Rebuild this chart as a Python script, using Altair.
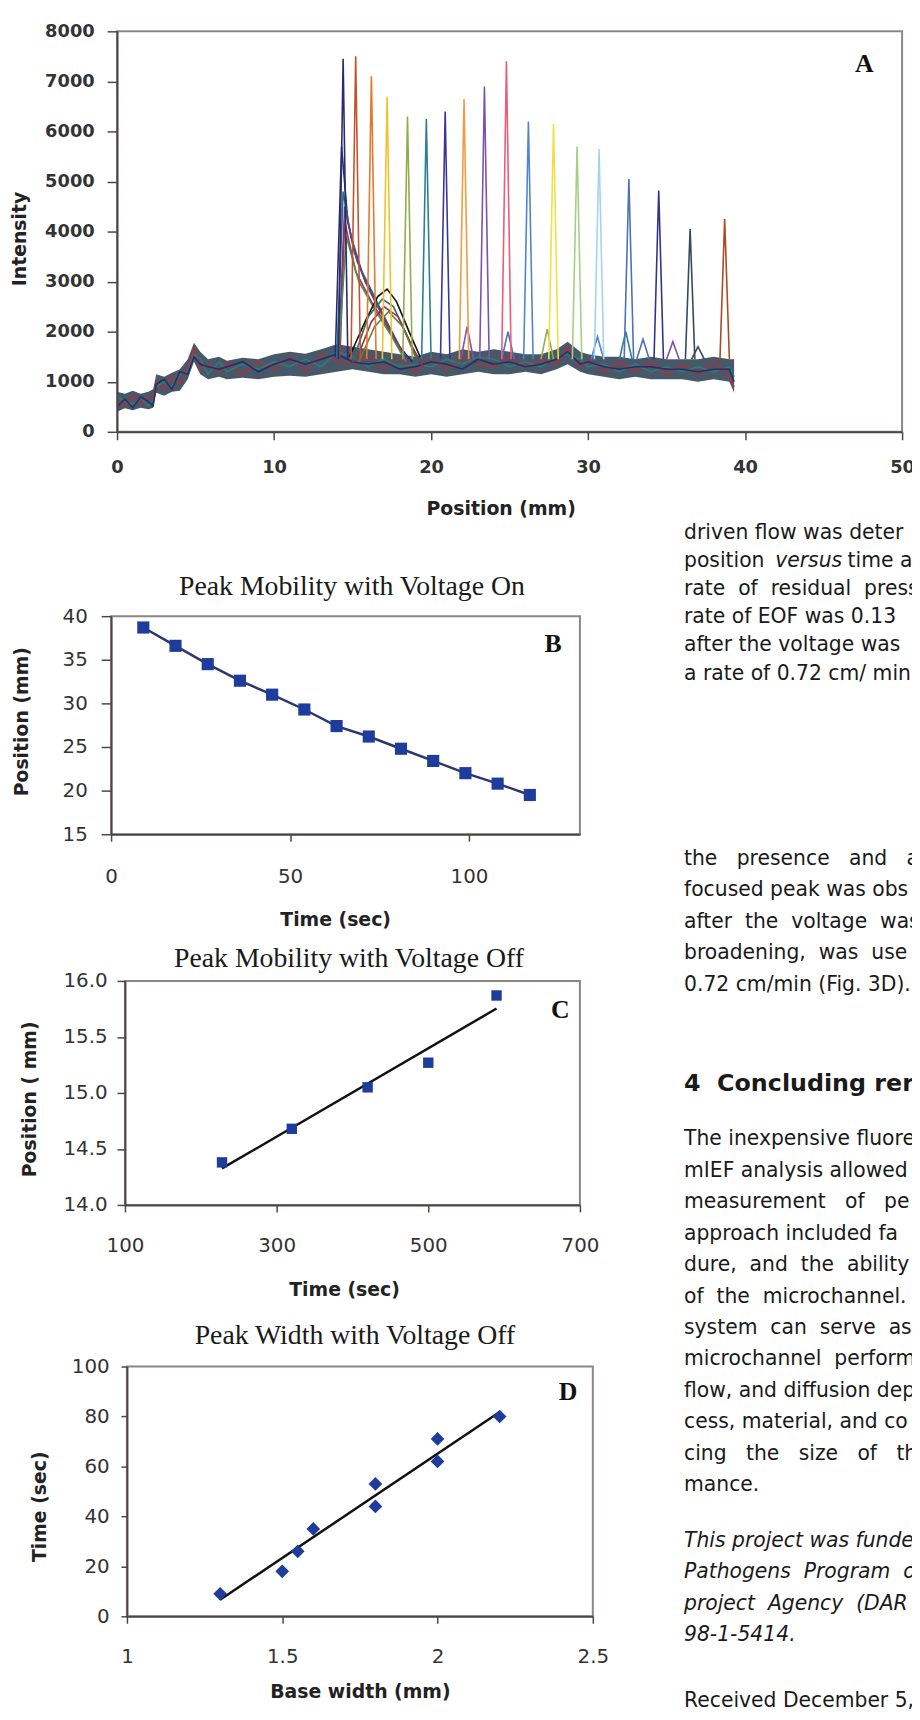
import altair as alt
import pandas as pd

# ============================ DATA ============================
# ---- Panel A: intensity profiles along the channel ----
band_x = [0, 0.5, 1.0, 1.5, 2.0, 2.3, 2.5, 3.0, 3.5, 4.0, 4.5, 4.9, 5.3, 5.8, 6.5, 7.0, 8.0, 9.0, 10.0, 11.0,
          12.0, 13.0, 14.0, 15.0, 16.0, 17.0, 18.0, 19.0, 20.0, 21.0, 22.0, 23.0, 24.0, 25.0, 26.0, 27.0, 28.0,
          28.7, 29.5, 30.0, 31.0, 32.0, 33.0, 34.0, 35.0, 36.0, 37.0, 38.0, 39.0, 39.3]
band_low = [400, 470, 430, 480, 450, 480, 780, 720, 800, 820, 1050, 1400, 1150, 1050, 1100, 1050, 1080, 1050,
            1100, 1120, 1100, 1150, 1200, 1250, 1200, 1150, 1150, 1100, 1150, 1100, 1150, 1200, 1150, 1150, 1200,
            1150, 1250, 1350, 1200, 1150, 1100, 1050, 1100, 1050, 1050, 1050, 1000, 1050, 1000, 780]
band_high = [800, 760, 820, 760, 800, 850, 1150, 1100, 1180, 1250, 1450, 1780, 1600, 1450, 1500, 1420, 1480, 1450,
             1550, 1600, 1560, 1650, 1750, 1700, 1650, 1600, 1550, 1500, 1600, 1550, 1650, 1600, 1650, 1600, 1550,
             1550, 1650, 1800, 1600, 1550, 1500, 1500, 1450, 1500, 1450, 1450, 1450, 1500, 1450, 1450]
noise_a = [600, 520, 700, 560, 650, 700, 1000, 850, 1100, 950, 1300, 1650, 1250, 1350, 1200, 1380, 1150, 1400,
           1250, 1500, 1200, 1550, 1400, 1350, 1500, 1250, 1450, 1200, 1450, 1250, 1500, 1350, 1300, 1500, 1300,
           1450, 1350, 1700, 1300, 1450, 1200, 1400, 1200, 1400, 1150, 1350, 1150, 1400, 1100, 900]
noise_b = [700, 600, 550, 680, 520, 620, 900, 1000, 900, 1150, 1200, 1550, 1450, 1150, 1400, 1200, 1350, 1250,
           1400, 1300, 1450, 1300, 1600, 1500, 1300, 1450, 1300, 1350, 1300, 1450, 1350, 1500, 1450, 1300, 1400,
           1300, 1500, 1550, 1450, 1300, 1350, 1200, 1350, 1200, 1300, 1200, 1300, 1200, 1300, 1100]
noise_c = [500, 650, 480, 700, 600, 520, 950, 1050, 850, 1200, 1150, 1500, 1350, 1300, 1250, 1300, 1400, 1200,
           1350, 1450, 1350, 1450, 1550, 1400, 1350, 1400, 1250, 1300, 1400, 1350, 1250, 1450, 1350, 1400, 1300,
           1350, 1450, 1600, 1350, 1400, 1300, 1250, 1300, 1300, 1250, 1250, 1200, 1250, 1250, 1000]
noise_colors = ["#a8323f", "#2c7d78", "#2b2b6a"]

peak_pos = [14.4, 15.2, 16.2, 17.2, 18.5, 19.7, 20.9, 22.1, 23.4, 24.8, 26.2, 27.8, 29.3, 30.7, 32.6, 34.5, 36.5, 38.7]
peak_height = [7450, 7500, 7100, 6700, 6300, 6250, 6400, 6650, 6900, 7400, 6200, 6150, 5700, 5650, 5050, 4820, 4050, 4250]
peak_color = ["#2e2a6e", "#c4532b", "#e8772b", "#f0c22a", "#93ab4a", "#2a8090", "#37379a", "#f39c3f", "#7d52aa",
              "#ec5b78", "#5283ca", "#f2df45", "#a9cd86", "#a3d3ee", "#4e70b9", "#33338c", "#36495c", "#ab4a20"]
PEAK_BASE = 1450     # level where the spikes leave the baseline band
PEAK_HALF = 0.3      # half width of a spike at its base (mm)

# small secondary bumps standing on the band
bump_pos = [22.3, 24.9, 27.4, 30.6, 32.4, 33.5, 35.4, 37.0]
bump_height = [2100, 2000, 2050, 1900, 2000, 1850, 1800, 1700]
bump_color = ["#7d52aa", "#4e70b9", "#93ab4a", "#5283ca", "#2a8090", "#4e70b9", "#7d52aa", "#36495c"]
BUMP_HALF = 0.4

clu_x = [[13.9, 14.3, 14.7, 15.3, 16.0, 17.0, 18.0, 18.8],
         [14.0, 14.4, 14.9, 15.6, 16.4, 17.3, 18.3],
         [14.1, 14.5, 15.1, 15.8, 16.6, 17.6, 18.6],
         [14.2, 14.5, 15.2, 16.2, 17.2, 18.3],
         [14.1, 14.6, 15.4, 16.5, 17.5, 18.4],
         [14.8, 15.8, 16.6, 17.2, 17.8, 18.6, 19.3],
         [15.0, 16.0, 16.9, 17.6, 18.5, 19.2],
         [15.2, 16.2, 17.0, 17.9, 18.8, 19.5],
         [15.4, 16.4, 17.3, 18.2, 19.0]]
clu_y = [[1500, 5700, 4200, 3400, 2900, 2300, 1700, 1400],
         [1500, 4800, 3900, 3200, 2700, 2100, 1500],
         [1500, 4500, 3600, 3000, 2500, 1900, 1400],
         [1500, 4200, 3200, 2600, 2100, 1500],
         [1500, 3900, 3000, 2400, 1900, 1400],
         [1500, 2200, 2700, 2850, 2600, 2000, 1500],
         [1400, 2300, 2650, 2500, 1900, 1400],
         [1400, 2200, 2500, 2300, 1700, 1300],
         [1400, 2100, 2400, 2100, 1500]]
clu_color = ["#2a2a72", "#1f7080", "#6b3b8c", "#b03242", "#3f905b", "#111111", "#2b6b72", "#8c3252", "#6b7b31"]

# ---- Panel B ----
b_time = [9, 18, 27, 36, 45, 54, 63, 72, 81, 90, 99, 108, 117]
b_position = [38.7, 36.6, 34.5, 32.6, 31.0, 29.3, 27.4, 26.2, 24.8, 23.4, 22.0, 20.8, 19.5]

# ---- Panel C ----
c_time = [228, 320, 420, 500, 590]
c_position = [14.38, 14.68, 15.05, 15.27, 15.87]

# ---- Panel D ----
d_base_width = [1.3, 1.5, 1.55, 1.6, 1.8, 1.8, 2.0, 2.0, 2.2]
d_time = [9, 18, 26, 35, 44, 53, 62, 71, 80]

# ---- axis domains and tick values ----
a_x_dom, a_y_dom = [0, 50], [0, 8000]
b_x_dom, b_y_dom = [0, 131], [15, 40]
c_x_dom, c_y_dom = [100, 700], [14, 16]
d_x_dom, d_y_dom = [1, 2.5], [0, 100]
a_x_ticks = [0, 10, 20, 30, 40, 50]
a_y_ticks = [0, 1000, 2000, 3000, 4000, 5000, 6000, 7000, 8000]
b_x_ticks = [0, 50, 100]
b_y_ticks = [15, 20, 25, 30, 35, 40]
c_x_ticks = [100, 300, 500, 700]
c_y_ticks = [14.0, 14.5, 15.0, 15.5, 16.0]
d_x_ticks = [1, 1.5, 2, 2.5]
d_y_ticks = [0, 20, 40, 60, 80, 100]

# ---- titles and body text (as visible on the page) ----
panel_titles = ["Peak Mobility with Voltage On", "Peak Mobility with Voltage Off", "Peak Width with Voltage Off"]
upper_lines = ["driven flow was deter", None, "rate of residual press", "rate of EOF was 0.13",
               "after the voltage was", "a rate of 0.72 cm/ min"]
upper_extra = [0, 0, 1, 0, 0, 0]
versus_segments = ["position", "versus", "time a"]
middle_lines = ["the presence and a", "focused peak was obs", "after the voltage was",
                "broadening, was use", "0.72 cm/min (Fig. 3D)."]
middle_extra = [2, 0, 1, 1, 0]
heading = "4\u00a0\u00a0Concluding rer"
body_lines = ["The inexpensive fluore", "mIEF analysis allowed", "measurement of pe", "approach included fa",
              "dure, and the ability t", "of the microchannel.", "system can serve as", "microchannel perform",
              "flow, and diffusion dep", "cess, material, and co", "cing the size of the", "mance."]
body_extra = [0, 0, 2, 0, 1, 1, 1, 1, 0, 0, 2, 0]
ack_lines = ["This project was funde", "Pathogens Program o", "project Agency (DAR", "98-1-5414."]
ack_extra = [0, 1, 1, 0]
received_line = "Received December 5, 2"

# ============================ LAYOUT (page pixels) ============================
PAGE_M = 8                     # body margin
CW, CH = 912, 1704             # canvas size
# plot boxes: left, right, top, bottom (page px)
BOX_A = (118, 910, 24, 428)
BOX_B = (112, 585, 614, 834)
BOX_C = (126, 585, 982, 1208)
BOX_D = (128, 598, 1371, 1623)

AXIS = "#4f4545"
BORDER = "#8e8585"
LABEL = "#333333"
MARK_BLUE = "#1e3c9c"

COMMON = dict(domainColor=AXIS, domainWidth=2, tickColor=AXIS, tickWidth=1.5, labelFont="DejaVu Sans",
              labelColor=LABEL, titleFont="DejaVu Sans", titleFontSize=19, titleFontWeight="bold",
              titleColor="#222222", grid=False, labelOverlap=False, labelFlush=False, zindex=1)


def xscale(dom, box):
    return alt.Scale(domain=dom, range=[box[0] - PAGE_M, box[1] - PAGE_M], nice=False, zero=False)


def yscale(dom, box):
    return alt.Scale(domain=dom, range=[box[3] - PAGE_M, box[2] - PAGE_M], nice=False, zero=False)


def axis_bottom(box, values, tick, lpad, title_c, size=20, bold=False, fmt=None):
    kw = dict(orient="bottom", offset=(box[3] - PAGE_M) - CH, values=values, tickSize=tick, labelPadding=lpad,
              titleX=title_c[0] - PAGE_M, titleY=title_c[1] - box[3], labelFontSize=size,
              labelFontWeight="bold" if bold else "normal", titleAngle=0, titleBaseline="middle",
              titleAlign="center", **COMMON)
    if fmt:
        kw["format"] = fmt
    return alt.Axis(**kw)


def axis_left(box, values, tick, lpad, title_c, size=20, bold=False, fmt=None):
    kw = dict(orient="left", offset=-(box[0] - PAGE_M), values=values, tickSize=tick, labelPadding=lpad,
              titleX=title_c[0] - box[0], titleY=title_c[1] - PAGE_M, labelFontSize=size,
              labelFontWeight="bold" if bold else "normal", titleAngle=270, titleBaseline="middle",
              titleAlign="center", **COMMON)
    if fmt:
        kw["format"] = fmt
    return alt.Axis(**kw)


def border(xf, yf, xdom, ydom, xenc, yenc):
    df = pd.DataFrame({xf: [xdom[0]], xf + "2": [xdom[1]], yf: [ydom[0]], yf + "2": [ydom[1]]})
    return alt.Chart(df).mark_rect(fillOpacity=0, stroke=BORDER, strokeWidth=2).encode(
        x=xenc, x2=f"{xf}2:Q", y=yenc, y2=f"{yf}2:Q")


def letter(ch, xv, yv, xf, yf, xenc, yenc):
    df = pd.DataFrame({xf: [xv], yf: [yv], "lab": [ch]})
    return alt.Chart(df).mark_text(font="Liberation Serif", fontSize=26, fontWeight="bold",
                                   color="#111111").encode(x=xenc, y=yenc, text="lab:N")


# ============================ PANEL A ============================
rows, ids, cols = [], [], []


def add_trace(tid, color, xs, ys):
    ids.append(tid)
    cols.append(color)
    for i, (x, y) in enumerate(zip(xs, ys)):
        rows.append({"trace": tid, "i": i, "x": x, "y": y})


for k, (ys, c) in enumerate(zip([noise_a, noise_b, noise_c], noise_colors)):
    add_trace(f"n{k}", c, band_x, ys)
for k, (p, h, c) in enumerate(zip(bump_pos, bump_height, bump_color)):
    add_trace(f"b{k}", c, [p - BUMP_HALF, p, p + BUMP_HALF], [PEAK_BASE, h, PEAK_BASE])
for k, (xs, ys, c) in enumerate(zip(clu_x, clu_y, clu_color)):
    add_trace(f"c{k}", c, xs, ys)
for k, (p, h, c) in enumerate(zip(peak_pos, peak_height, peak_color)):
    add_trace(f"p{k:02d}", c, [p - PEAK_HALF, p, p + PEAK_HALF], [PEAK_BASE, h, PEAK_BASE])
dfA = pd.DataFrame(rows)
dfBand = pd.DataFrame({"x": band_x, "y": band_low, "y2": band_high})

xA = alt.X("x:Q", scale=xscale(a_x_dom, BOX_A),
           axis=axis_bottom(BOX_A, a_x_ticks, 8, 19, (505, 505), size=18, bold=True), title="Position (mm)")
yA = alt.Y("y:Q", scale=yscale(a_y_dom, BOX_A),
           axis=axis_left(BOX_A, a_y_ticks, 10, 13, (20, 233), size=18, bold=True, fmt="d"), title="Intensity")

panelA = alt.layer(
    border("x", "y", a_x_dom, a_y_dom, xA, yA),
    alt.Chart(dfBand).mark_area(color="#374a5c", opacity=0.92).encode(x=xA, y=yA, y2="y2:Q"),
    alt.Chart(dfA).mark_line(strokeWidth=1.6).encode(
        x=xA, y=yA, order="i:Q", detail="trace:N",
        color=alt.Color("trace:N", scale=alt.Scale(domain=ids, range=cols), legend=None)),
    letter("A", 47.6, 7350, "x", "y", xA, yA),
)

# ============================ PANEL B ============================
dfB = pd.DataFrame({"t": b_time, "p": b_position})
xB = alt.X("t:Q", scale=xscale(b_x_dom, BOX_B), axis=axis_bottom(BOX_B, b_x_ticks, 7, 25.5, (338, 920)),
           title="Time (sec)")
yB = alt.Y("p:Q", scale=yscale(b_y_dom, BOX_B), axis=axis_left(BOX_B, b_y_ticks, 10, 14, (22, 720)),
           title="Position (mm)")
panelB = alt.layer(
    border("t", "p", b_x_dom, b_y_dom, xB, yB),
    alt.Chart(dfB).mark_line(color="#2c366f", strokeWidth=2.5).encode(x=xB, y=yB),
    alt.Chart(dfB).mark_square(size=150, color=MARK_BLUE, opacity=1).encode(x=xB, y=yB),
    letter("B", 123.5, 36.8, "t", "p", xB, yB),
)

# ============================ PANEL C ============================
dfC = pd.DataFrame({"t": c_time, "p": c_position})
xC = alt.X("t:Q", scale=xscale(c_x_dom, BOX_C), axis=axis_bottom(BOX_C, c_x_ticks, 7, 23.5, (347, 1293)),
           title="Time (sec)")
yC = alt.Y("p:Q", scale=yscale(c_y_dom, BOX_C),
           axis=axis_left(BOX_C, c_y_ticks, 8, 10, (30, 1101), fmt=".1f"), title="Position ( mm)")
panelC = alt.layer(
    border("t", "p", c_x_dom, c_y_dom, xC, yC),
    alt.Chart(dfC).transform_regression("t", "p").mark_line(color="#111111", strokeWidth=2.5).encode(x=xC, y=yC),
    alt.Chart(dfC).mark_square(size=110, color=MARK_BLUE, opacity=1).encode(x=xC, y=yC),
    letter("C", 674, 15.74, "t", "p", xC, yC),
)

# ============================ PANEL D ============================
dfD = pd.DataFrame({"w": d_base_width, "t": d_time})
xD = alt.X("w:Q", scale=xscale(d_x_dom, BOX_D),
           axis=axis_bottom(BOX_D, d_x_ticks, 7, 23.5, (363, 1699), fmt="~g"), title="Base width (mm)")
yD = alt.Y("t:Q", scale=yscale(d_y_dom, BOX_D), axis=axis_left(BOX_D, d_y_ticks, 6, 12, (40, 1512)),
           title="Time (sec)")
panelD = alt.layer(
    border("w", "t", d_x_dom, d_y_dom, xD, yD),
    alt.Chart(dfD).transform_regression("w", "t").mark_line(color="#111111", strokeWidth=2.5).encode(x=xD, y=yD),
    alt.Chart(dfD).mark_point(shape="diamond", filled=True, size=190, color=MARK_BLUE, opacity=1).encode(x=xD, y=yD),
    letter("D", 2.42, 89.7, "w", "t", xD, yD),
)

# ============================ TEXT (titles + page text) ============================
BODY_X = 690
NB = "\u00a0"


def spaced(line, extra):
    return (" " + NB * extra).join(line.split(" "))


norm, ital, bold, serif = [], [], [], []
for s, (cx, cy) in zip(panel_titles, [(355, 585), (352, 960), (358, 1340)]):
    serif.append({"s": s, "px": cx, "py": cy})
for k, (ln, ex) in enumerate(zip(upper_lines, upper_extra)):
    y = 530 + 28.4 * k
    if ln is None:
        for seg, sx, st in zip(versus_segments, [690, 782, 855], ["n", "i", "n"]):
            (ital if st == "i" else norm).append({"s": seg, "px": sx, "py": y})
    else:
        norm.append({"s": spaced(ln, ex), "px": BODY_X, "py": y})
for k, (ln, ex) in enumerate(zip(middle_lines, middle_extra)):
    norm.append({"s": spaced(ln, ex), "px": BODY_X, "py": 859 + 31.7 * k})
bold.append({"s": heading, "px": BODY_X, "py": 1086})
for k, (ln, ex) in enumerate(zip(body_lines, body_extra)):
    norm.append({"s": spaced(ln, ex), "px": BODY_X, "py": 1142 + 31.7 * k})
for k, (ln, ex) in enumerate(zip(ack_lines, ack_extra)):
    ital.append({"s": spaced(ln, ex), "px": BODY_X, "py": 1547 + 31.7 * k})
norm.append({"s": received_line, "px": BODY_X, "py": 1708})

px_scale = alt.Scale(domain=[PAGE_M, PAGE_M + CW], range=[0, CW], nice=False, zero=False)
py_scale = alt.Scale(domain=[PAGE_M, PAGE_M + CH], range=[0, CH], nice=False, zero=False)


def text_layer(recs, align="left", **mk):
    return alt.Chart(pd.DataFrame(recs)).mark_text(align=align, baseline="middle", color="#1a1a1a", **mk).encode(
        x=alt.X("px:Q", scale=px_scale, axis=None), y=alt.Y("py:Q", scale=py_scale, axis=None), text="s:N")


texts = alt.layer(
    text_layer(serif, align="center", font="Liberation Serif", fontSize=28),
    text_layer(norm, font="DejaVu Sans", fontSize=20.5),
    text_layer(ital, font="DejaVu Sans", fontSize=20.5, fontStyle="italic"),
    text_layer(bold, font="DejaVu Sans", fontSize=24, fontWeight="bold"),
)

chart = alt.layer(panelA, panelB, panelC, panelD, texts).resolve_scale(
    x="independent", y="independent", color="independent"
).resolve_axis(x="independent", y="independent").properties(
    width=CW, height=CH, padding=0, autosize=alt.AutoSizeParams(type="none")
).configure_view(strokeOpacity=0)

chart.save("out.html", embed_options={"renderer": "svg", "actions": False})
